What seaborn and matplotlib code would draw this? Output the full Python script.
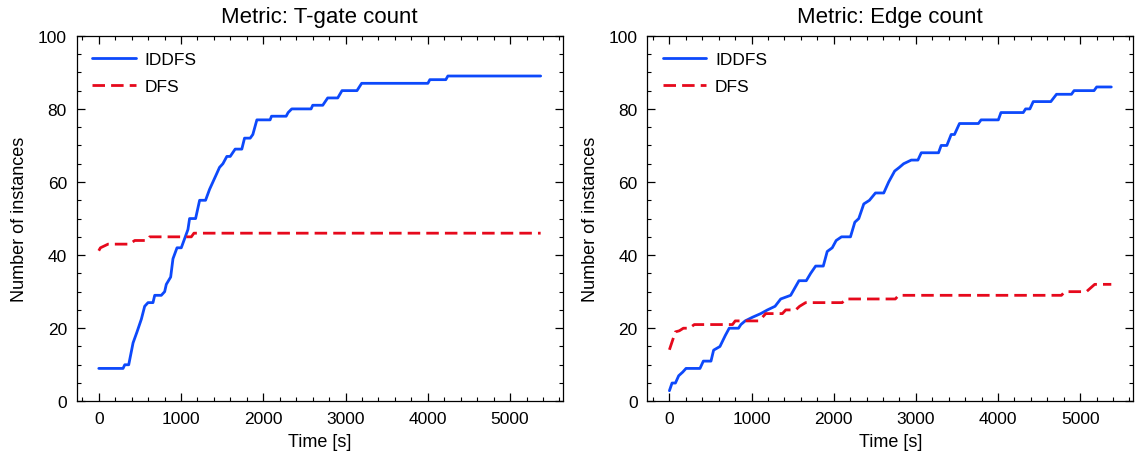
import pandas as pd
import matplotlib.pyplot as plt
import matplotlib.ticker as mticker
import seaborn as sns

# solved instances over time
tgate_iddfs_t = [0, 295, 316, 364, 417, 465, 518, 558, 599, 659, 680, 760, 801, 821, 874, 902,
                 951, 1003, 1084, 1104, 1177, 1226, 1298, 1347, 1428, 1468, 1509, 1557, 1598, 1658,
                 1739, 1772, 1841, 1873, 1922, 2083, 2100, 2278, 2302, 2346, 2581, 2601, 2723, 2783,
                 2905, 2957, 3139, 3196, 4001, 4025, 4219, 4244, 5372]
tgate_iddfs_n = [9, 9, 10, 10, 16, 19, 22.5, 26, 27, 27, 29, 29, 30, 32, 34, 39,
                 42, 42, 47, 50, 50, 55, 55, 58, 62, 64, 65, 67, 67, 69,
                 69, 72, 72, 73, 77, 77, 78, 78, 79, 80, 80, 81, 81, 83,
                 83, 85, 85, 87, 87, 88, 88, 89, 89]
tgate_dfs_t = [0, 20, 113, 376, 437, 587, 619, 1125, 1157, 5372]
tgate_dfs_n = [41.2, 42, 43, 43, 44, 44, 45, 45, 46, 46]

edge_iddfs_t = [0, 32, 73, 113, 162, 202, 372, 413, 506, 538, 615, 680, 728, 841, 870, 922,
                1011, 1112, 1193, 1286, 1355, 1476, 1577, 1666, 1719, 1780, 1873, 1921, 1982, 2030,
                2095, 2204, 2257, 2305, 2366, 2435, 2508, 2609, 2669, 2742, 2799, 2851, 2944, 3025,
                3066, 3276, 3308, 3377, 3430, 3470, 3531, 3761, 3794, 4004, 4036, 4307, 4336, 4388,
                4429, 4643, 4712, 4894, 4926, 5169, 5201, 5379]
edge_iddfs_n = [2.9, 5, 5, 7, 8, 9, 9, 11, 11, 14, 15, 18, 20, 20, 21, 22,
                23, 24, 25, 26, 28, 29, 33, 33, 35, 37, 37, 41, 42, 44,
                45, 45, 49, 50, 54, 55, 57, 57, 60, 63, 64, 65, 66, 66,
                68, 68, 70, 70, 73, 73, 76, 76, 77, 77, 79, 79, 80, 80,
                82, 82, 84, 84, 85, 85, 86, 86]
edge_dfs_t = [0, 73, 121, 170, 243, 303, 768, 801, 1092, 1173, 1375, 1416, 1537, 1585, 1658,
              2103, 2144, 2750, 2791, 4772, 4813, 5076, 5177, 5379]
edge_dfs_n = [14.1, 19, 19.3, 20, 20, 21, 21, 22, 22, 24, 24, 25, 25, 26, 27,
              27, 28, 28, 29, 29, 30, 30, 32, 32]

panels = [
    ("T-gate count", tgate_iddfs_t, tgate_iddfs_n, tgate_dfs_t, tgate_dfs_n),
    ("Edge count", edge_iddfs_t, edge_iddfs_n, edge_dfs_t, edge_dfs_n),
]

sns.set_style("ticks")
plt.rcParams["font.family"] = ["Liberation Sans", "DejaVu Sans"]
plt.rcParams["text.color"] = "black"
plt.rcParams["axes.labelcolor"] = "black"
plt.rcParams["axes.edgecolor"] = "black"
plt.rcParams["xtick.color"] = "black"
plt.rcParams["ytick.color"] = "black"

fig, axes = plt.subplots(1, 2, figsize=(11.36, 4.6), dpi=100)
fig.subplots_adjust(left=0.0675, right=0.9977, top=0.92, bottom=0.1254, wspace=0.174)

for ax, (metric, it, inum, dt, dnum) in zip(axes, panels):
    df = pd.concat([
        pd.DataFrame({"Time": it, "Count": inum, "Algo": "IDDFS"}),
        pd.DataFrame({"Time": dt, "Count": dnum, "Algo": "DFS"}),
    ])
    sns.lineplot(data=df, x="Time", y="Count", hue="Algo", style="Algo",
                 palette={"IDDFS": "#0d49fb", "DFS": "#e6091c"},
                 dashes={"IDDFS": "", "DFS": (4.5, 2.2)},
                 linewidth=2, sort=False, estimator=None, ax=ax)
    ax.set_ylim(0, 100)
    ax.xaxis.set_major_locator(mticker.MultipleLocator(1000))
    ax.xaxis.set_minor_locator(mticker.MultipleLocator(200))
    ax.yaxis.set_major_locator(mticker.MultipleLocator(20))
    ax.yaxis.set_minor_locator(mticker.MultipleLocator(5))
    ax.tick_params(which="both", direction="in", top=True, right=True,
                   labelsize=12.5, pad=7)
    ax.tick_params(which="major", length=6, width=0.9)
    ax.tick_params(which="minor", length=3, width=0.8)
    for s in ax.spines.values():
        s.set_linewidth(0.9)
    ax.set_title(f"Metric: {metric}", fontsize=16, pad=10)
    ax.set_xlabel("Time [s]", fontsize=13, labelpad=5)
    ax.set_ylabel("Number of instances", fontsize=13, labelpad=7)
    leg = ax.legend(loc="upper left", frameon=False, fontsize=12.5,
                    handlelength=2.5, handletextpad=0.5, labelspacing=0.7)
    leg.set_title(None)

fig.savefig("out.png", dpi=100)
